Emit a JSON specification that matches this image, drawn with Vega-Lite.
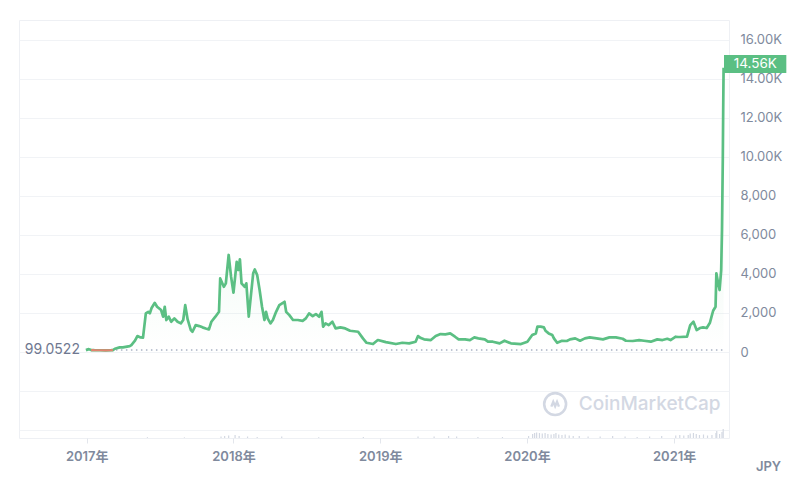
{
  "$schema": "https://vega.github.io/schema/vega-lite/v6.json",
  "width": 710,
  "height": 418,
  "autosize": {"type": "none"},
  "padding": {"left": 19, "top": 20, "right": 71, "bottom": 48},
  "background": "#ffffff",
  "config": {
    "view": {"stroke": "#eef0f4", "strokeWidth": 1},
    "font": "Inter, 'Noto Sans CJK JP', sans-serif"
  },
  "datasets": {
    "price": [
      {"date": "2016-12-30", "price": 99.0522},
      {"date": "2017-01-06", "price": 150},
      {"date": "2017-01-12", "price": 99},
      {"date": "2017-01-20", "price": 94},
      {"date": "2017-02-03", "price": 92},
      {"date": "2017-02-17", "price": 90},
      {"date": "2017-03-03", "price": 95},
      {"date": "2017-03-07", "price": 99},
      {"date": "2017-03-12", "price": 169},
      {"date": "2017-03-24", "price": 240},
      {"date": "2017-04-01", "price": 240},
      {"date": "2017-04-18", "price": 307},
      {"date": "2017-04-22", "price": 358},
      {"date": "2017-05-01", "price": 580},
      {"date": "2017-05-07", "price": 820},
      {"date": "2017-05-15", "price": 750},
      {"date": "2017-05-21", "price": 740},
      {"date": "2017-05-28", "price": 1980},
      {"date": "2017-06-03", "price": 2060},
      {"date": "2017-06-07", "price": 1980},
      {"date": "2017-06-11", "price": 2240},
      {"date": "2017-06-19", "price": 2520},
      {"date": "2017-06-25", "price": 2320},
      {"date": "2017-07-05", "price": 2150},
      {"date": "2017-07-10", "price": 1810},
      {"date": "2017-07-14", "price": 2320},
      {"date": "2017-07-18", "price": 1640},
      {"date": "2017-07-24", "price": 1810},
      {"date": "2017-07-30", "price": 1550},
      {"date": "2017-08-07", "price": 1725},
      {"date": "2017-08-15", "price": 1550},
      {"date": "2017-08-23", "price": 1470},
      {"date": "2017-08-29", "price": 1640},
      {"date": "2017-09-03", "price": 2400},
      {"date": "2017-09-09", "price": 1670},
      {"date": "2017-09-17", "price": 1125},
      {"date": "2017-09-21", "price": 1040},
      {"date": "2017-09-29", "price": 1380},
      {"date": "2017-10-08", "price": 1330},
      {"date": "2017-10-16", "price": 1265},
      {"date": "2017-10-24", "price": 1210},
      {"date": "2017-11-01", "price": 1160},
      {"date": "2017-11-07", "price": 1550},
      {"date": "2017-11-17", "price": 1810},
      {"date": "2017-11-26", "price": 2060},
      {"date": "2017-11-29", "price": 3770},
      {"date": "2017-12-08", "price": 3340},
      {"date": "2017-12-13", "price": 3520},
      {"date": "2017-12-20", "price": 4970},
      {"date": "2017-12-26", "price": 3860},
      {"date": "2018-01-01", "price": 3040},
      {"date": "2018-01-09", "price": 4620},
      {"date": "2018-01-13", "price": 4200},
      {"date": "2018-01-17", "price": 4750},
      {"date": "2018-01-21", "price": 3520},
      {"date": "2018-01-29", "price": 3340},
      {"date": "2018-02-02", "price": 3520},
      {"date": "2018-02-08", "price": 1810},
      {"date": "2018-02-13", "price": 2830},
      {"date": "2018-02-19", "price": 4030},
      {"date": "2018-02-23", "price": 4230},
      {"date": "2018-03-01", "price": 3940},
      {"date": "2018-03-07", "price": 3175},
      {"date": "2018-03-13", "price": 2320},
      {"date": "2018-03-19", "price": 1640},
      {"date": "2018-03-23", "price": 2060},
      {"date": "2018-03-27", "price": 1725},
      {"date": "2018-04-03", "price": 1470},
      {"date": "2018-04-09", "price": 1640},
      {"date": "2018-04-17", "price": 2060},
      {"date": "2018-04-25", "price": 2400},
      {"date": "2018-05-08", "price": 2575},
      {"date": "2018-05-12", "price": 2060},
      {"date": "2018-05-20", "price": 1890},
      {"date": "2018-05-29", "price": 1640},
      {"date": "2018-06-10", "price": 1640},
      {"date": "2018-06-22", "price": 1600},
      {"date": "2018-06-30", "price": 1725},
      {"date": "2018-07-08", "price": 1980},
      {"date": "2018-07-17", "price": 1840},
      {"date": "2018-07-25", "price": 1945},
      {"date": "2018-08-02", "price": 1810},
      {"date": "2018-08-08", "price": 2060},
      {"date": "2018-08-12", "price": 1300},
      {"date": "2018-08-18", "price": 1470},
      {"date": "2018-08-26", "price": 1380},
      {"date": "2018-09-04", "price": 1550},
      {"date": "2018-09-12", "price": 1210},
      {"date": "2018-09-24", "price": 1265},
      {"date": "2018-10-06", "price": 1210},
      {"date": "2018-10-18", "price": 1090},
      {"date": "2018-11-07", "price": 1040},
      {"date": "2018-11-19", "price": 700},
      {"date": "2018-11-28", "price": 475},
      {"date": "2018-12-14", "price": 410},
      {"date": "2018-12-26", "price": 615},
      {"date": "2019-01-15", "price": 510},
      {"date": "2019-02-09", "price": 410},
      {"date": "2019-02-25", "price": 475},
      {"date": "2019-03-14", "price": 445},
      {"date": "2019-03-30", "price": 530},
      {"date": "2019-04-05", "price": 820},
      {"date": "2019-04-12", "price": 715},
      {"date": "2019-04-20", "price": 650},
      {"date": "2019-05-07", "price": 615},
      {"date": "2019-05-19", "price": 820},
      {"date": "2019-05-31", "price": 920},
      {"date": "2019-06-12", "price": 905},
      {"date": "2019-06-24", "price": 955},
      {"date": "2019-07-06", "price": 785},
      {"date": "2019-07-15", "price": 650},
      {"date": "2019-07-31", "price": 650},
      {"date": "2019-08-12", "price": 615},
      {"date": "2019-08-23", "price": 750},
      {"date": "2019-09-02", "price": 700},
      {"date": "2019-09-18", "price": 650},
      {"date": "2019-09-26", "price": 530},
      {"date": "2019-10-08", "price": 530},
      {"date": "2019-10-25", "price": 445},
      {"date": "2019-11-06", "price": 580},
      {"date": "2019-11-22", "price": 445},
      {"date": "2019-12-17", "price": 410},
      {"date": "2020-01-02", "price": 530},
      {"date": "2020-01-14", "price": 870},
      {"date": "2020-01-23", "price": 955},
      {"date": "2020-01-27", "price": 1300},
      {"date": "2020-02-04", "price": 1300},
      {"date": "2020-02-12", "price": 1265},
      {"date": "2020-02-16", "price": 1090},
      {"date": "2020-02-24", "price": 955},
      {"date": "2020-03-04", "price": 870},
      {"date": "2020-03-08", "price": 700},
      {"date": "2020-03-16", "price": 475},
      {"date": "2020-03-28", "price": 580},
      {"date": "2020-04-09", "price": 565},
      {"date": "2020-04-17", "price": 650},
      {"date": "2020-04-30", "price": 700},
      {"date": "2020-05-12", "price": 580},
      {"date": "2020-05-24", "price": 700},
      {"date": "2020-06-05", "price": 750},
      {"date": "2020-06-22", "price": 700},
      {"date": "2020-07-08", "price": 650},
      {"date": "2020-07-24", "price": 750},
      {"date": "2020-08-09", "price": 750},
      {"date": "2020-08-26", "price": 680},
      {"date": "2020-09-03", "price": 580},
      {"date": "2020-09-20", "price": 565},
      {"date": "2020-10-06", "price": 615},
      {"date": "2020-10-18", "price": 580},
      {"date": "2020-11-04", "price": 530},
      {"date": "2020-11-20", "price": 650},
      {"date": "2020-12-03", "price": 615},
      {"date": "2020-12-15", "price": 680},
      {"date": "2020-12-23", "price": 615},
      {"date": "2021-01-05", "price": 785},
      {"date": "2021-01-11", "price": 770},
      {"date": "2021-01-16", "price": 770},
      {"date": "2021-02-02", "price": 785},
      {"date": "2021-02-10", "price": 1380},
      {"date": "2021-02-18", "price": 1550},
      {"date": "2021-02-26", "price": 1125},
      {"date": "2021-03-06", "price": 1230},
      {"date": "2021-03-14", "price": 1265},
      {"date": "2021-03-23", "price": 1230},
      {"date": "2021-03-31", "price": 1500},
      {"date": "2021-04-04", "price": 1810},
      {"date": "2021-04-08", "price": 2115},
      {"date": "2021-04-14", "price": 2320},
      {"date": "2021-04-16", "price": 4030},
      {"date": "2021-04-19", "price": 3690},
      {"date": "2021-04-24", "price": 3175},
      {"date": "2021-04-28", "price": 4200},
      {"date": "2021-04-30", "price": 6250},
      {"date": "2021-05-02", "price": 9830},
      {"date": "2021-05-03", "price": 12390},
      {"date": "2021-05-04", "price": 14560}
    ],
    "volume": [
      {"date": "2017-06-01", "volume": 8},
      {"date": "2017-09-01", "volume": 6},
      {"date": "2017-12-01", "volume": 15},
      {"date": "2017-12-10", "volume": 20},
      {"date": "2017-12-20", "volume": 25},
      {"date": "2018-01-05", "volume": 30},
      {"date": "2018-01-15", "volume": 20},
      {"date": "2018-02-05", "volume": 15},
      {"date": "2018-03-01", "volume": 10},
      {"date": "2018-05-01", "volume": 15},
      {"date": "2018-08-01", "volume": 8},
      {"date": "2018-11-20", "volume": 10},
      {"date": "2019-04-05", "volume": 15},
      {"date": "2019-05-15", "volume": 15},
      {"date": "2019-06-20", "volume": 20},
      {"date": "2019-07-10", "volume": 15},
      {"date": "2019-09-01", "volume": 10},
      {"date": "2019-11-01", "volume": 10},
      {"date": "2020-01-05", "volume": 20},
      {"date": "2020-01-15", "volume": 40},
      {"date": "2020-01-20", "volume": 50},
      {"date": "2020-01-25", "volume": 55},
      {"date": "2020-02-01", "volume": 50},
      {"date": "2020-02-08", "volume": 45},
      {"date": "2020-02-15", "volume": 50},
      {"date": "2020-02-22", "volume": 40},
      {"date": "2020-03-01", "volume": 35},
      {"date": "2020-03-08", "volume": 40},
      {"date": "2020-03-13", "volume": 50},
      {"date": "2020-03-20", "volume": 35},
      {"date": "2020-03-28", "volume": 30},
      {"date": "2020-04-05", "volume": 35},
      {"date": "2020-04-15", "volume": 25},
      {"date": "2020-04-25", "volume": 20},
      {"date": "2020-05-10", "volume": 20},
      {"date": "2020-06-01", "volume": 15},
      {"date": "2020-07-01", "volume": 15},
      {"date": "2020-08-01", "volume": 20},
      {"date": "2020-09-01", "volume": 15},
      {"date": "2020-10-01", "volume": 10},
      {"date": "2020-11-01", "volume": 15},
      {"date": "2020-12-01", "volume": 20},
      {"date": "2021-01-05", "volume": 25},
      {"date": "2021-01-15", "volume": 30},
      {"date": "2021-01-25", "volume": 25},
      {"date": "2021-02-05", "volume": 30},
      {"date": "2021-02-10", "volume": 45},
      {"date": "2021-02-18", "volume": 50},
      {"date": "2021-02-25", "volume": 40},
      {"date": "2021-03-05", "volume": 30},
      {"date": "2021-03-15", "volume": 35},
      {"date": "2021-03-25", "volume": 25},
      {"date": "2021-04-05", "volume": 30},
      {"date": "2021-04-15", "volume": 50},
      {"date": "2021-04-17", "volume": 70},
      {"date": "2021-04-24", "volume": 40},
      {"date": "2021-04-30", "volume": 60},
      {"date": "2021-05-03", "volume": 90}
    ]
  },
  "resolve": {"scale": {"y": "independent"}},
  "layer": [
    {
      "data": {"name": "volume"},
      "mark": {"type": "bar", "width": 1.2, "color": "#d3d8e2"},
      "encoding": {
        "x": {
          "field": "date", "type": "temporal",
          "scale": {"type": "utc", "domain": [{"year": 2016, "month": 7, "date": 29, "utc": true}, {"year": 2021, "month": 5, "date": 5, "utc": true}]},
          "axis": {
            "title": "JPY", "titleX": 749, "titleY": 28, "titleAlign": "center", "titleBaseline": "middle",
            "titleFontSize": 13, "titleFontWeight": 600, "titleColor": "#808a9d",
            "values": [{"year": 2017, "month": 1, "date": 1, "utc": true}, {"year": 2018, "month": 1, "date": 1, "utc": true}, {"year": 2019, "month": 1, "date": 1, "utc": true}, {"year": 2020, "month": 1, "date": 1, "utc": true}, {"year": 2021, "month": 1, "date": 1, "utc": true}],
            "labelExpr": "utcFormat(datum.value, '%Y') + '年'",
            "labelFont": "Inter, 'Noto Sans CJK JP', 'Noto Sans CJK SC', sans-serif",
            "grid": false, "domain": false,
            "tickColor": "#e3e6ec", "tickSize": 5,
            "labelPadding": 7, "labelFontSize": 13, "labelFontWeight": 600, "labelColor": "#808a9d"
          }
        },
        "y": {"field": "volume", "type": "quantitative", "scale": {"domain": [0, 4180]}, "axis": null}
      }
    },
    {
      "layer": [
        {
          "data": {"name": "price"},
          "mark": {
            "type": "area",
            "color": {"gradient": "linear", "x1": 1, "y1": 1, "x2": 1, "y2": 0,
              "stops": [{"offset": 0, "color": "rgba(91,191,131,0)"}, {"offset": 1, "color": "rgba(91,191,131,0.2)"}]}
          },
          "encoding": {
            "x": {"field": "date", "type": "temporal"},
            "y": {
              "field": "price", "type": "quantitative",
              "scale": {"domain": [-4400, 17000], "nice": false, "zero": false},
              "axis": {
                "orient": "right", "title": null,
                "values": [-4000, -2000, 0, 2000, 4000, 6000, 8000, 10000, 12000, 14000, 16000],
                "labelExpr": "datum.value < 0 ? '' : (datum.value >= 10000 ? format(datum.value / 1000, '.2f') + 'K' : format(datum.value, ','))",
                "grid": true, "gridColor": "#f1f3f6", "gridWidth": 1,
                "domain": false, "ticks": false,
                "labelPadding": 11, "labelFontSize": 13, "labelColor": "#808a9d", "labelAlign": "left", "labelBaseline": "middle"
              }
            },
            "y2": {"datum": 99.0522}
          }
        },
        {
          "data": {"values": [{}]},
          "mark": {"type": "rule", "color": "#a9b2c4", "strokeDash": [1.5, 3.5], "strokeWidth": 1.5},
          "encoding": {
            "x": {"datum": {"year": 2016, "month": 12, "date": 30, "utc": true}, "type": "temporal"},
            "x2": {"datum": {"year": 2021, "month": 5, "date": 4, "utc": true}},
            "y": {"datum": 99.0522, "type": "quantitative"}
          }
        },
        {
          "data": {"name": "price"},
          "mark": {"type": "line", "color": "#5bbf83", "strokeWidth": 2.7, "strokeJoin": "round"},
          "encoding": {
            "x": {"field": "date", "type": "temporal"},
            "y": {"field": "price", "type": "quantitative"}
          }
        },
        {
          "data": {"name": "price"},
          "transform": [{"filter": "datum.price <= 99"}],
          "mark": {"type": "line", "color": "#e3836f", "strokeWidth": 2.2},
          "encoding": {
            "x": {"field": "date", "type": "temporal"},
            "y": {"field": "price", "type": "quantitative"}
          }
        },
        {
          "data": {"values": [{}]},
          "mark": {"type": "text", "align": "right", "baseline": "middle", "dx": -6, "fontSize": 14, "color": "#6f7890", "text": "99.0522"},
          "encoding": {
            "x": {"datum": {"year": 2016, "month": 12, "date": 30, "utc": true}, "type": "temporal"},
            "y": {"datum": 99.0522, "type": "quantitative"}
          }
        },
        {
          "data": {"values": [{}]},
          "mark": {"type": "rect", "color": "#5bbf83", "clip": false},
          "encoding": {
            "x": {"datum": {"year": 2021, "month": 5, "date": 5, "utc": true}, "type": "temporal"},
            "x2": {"datum": {"year": 2021, "month": 10, "date": 7, "utc": true}},
            "y": {"datum": 15206, "type": "quantitative"},
            "y2": {"datum": 14285}
          }
        },
        {
          "data": {"values": [{}]},
          "mark": {"type": "text", "align": "center", "baseline": "middle", "fontSize": 13.5, "color": "#ffffff", "text": "14.56K"},
          "encoding": {
            "x": {"datum": {"year": 2021, "month": 7, "date": 22, "utc": true}, "type": "temporal"},
            "y": {"datum": 14745, "type": "quantitative"}
          }
        },
        {
          "data": {"values": [{}]},
          "mark": {"type": "point", "shape": "circle", "filled": false, "size": 480, "strokeWidth": 2.6, "color": "#d3d8e3", "opacity": 1},
          "encoding": {
            "x": {"datum": {"year": 2020, "month": 3, "date": 11, "utc": true}, "type": "temporal"},
            "y": {"datum": -2662, "type": "quantitative"}
          }
        },
        {
          "data": {"values": [{}]},
          "mark": {"type": "point", "shape": "M -0.6 0.4 L -0.3 -0.35 L 0 0.35 L 0.3 -0.35 L 0.6 0.4", "filled": false, "size": 160, "strokeWidth": 2.4, "color": "#d3d8e3", "opacity": 1},
          "encoding": {
            "x": {"datum": {"year": 2020, "month": 3, "date": 11, "utc": true}, "type": "temporal"},
            "y": {"datum": -2662, "type": "quantitative"}
          }
        },
        {
          "data": {"values": [{}]},
          "mark": {"type": "text", "align": "left", "baseline": "middle", "fontSize": 19, "fontWeight": 500, "color": "#d3d8e3", "text": "CoinMarketCap"},
          "encoding": {
            "x": {"datum": {"year": 2020, "month": 5, "date": 9, "utc": true}, "type": "temporal"},
            "y": {"datum": -2662, "type": "quantitative"}
          }
        }
      ]
    }
  ]
}
